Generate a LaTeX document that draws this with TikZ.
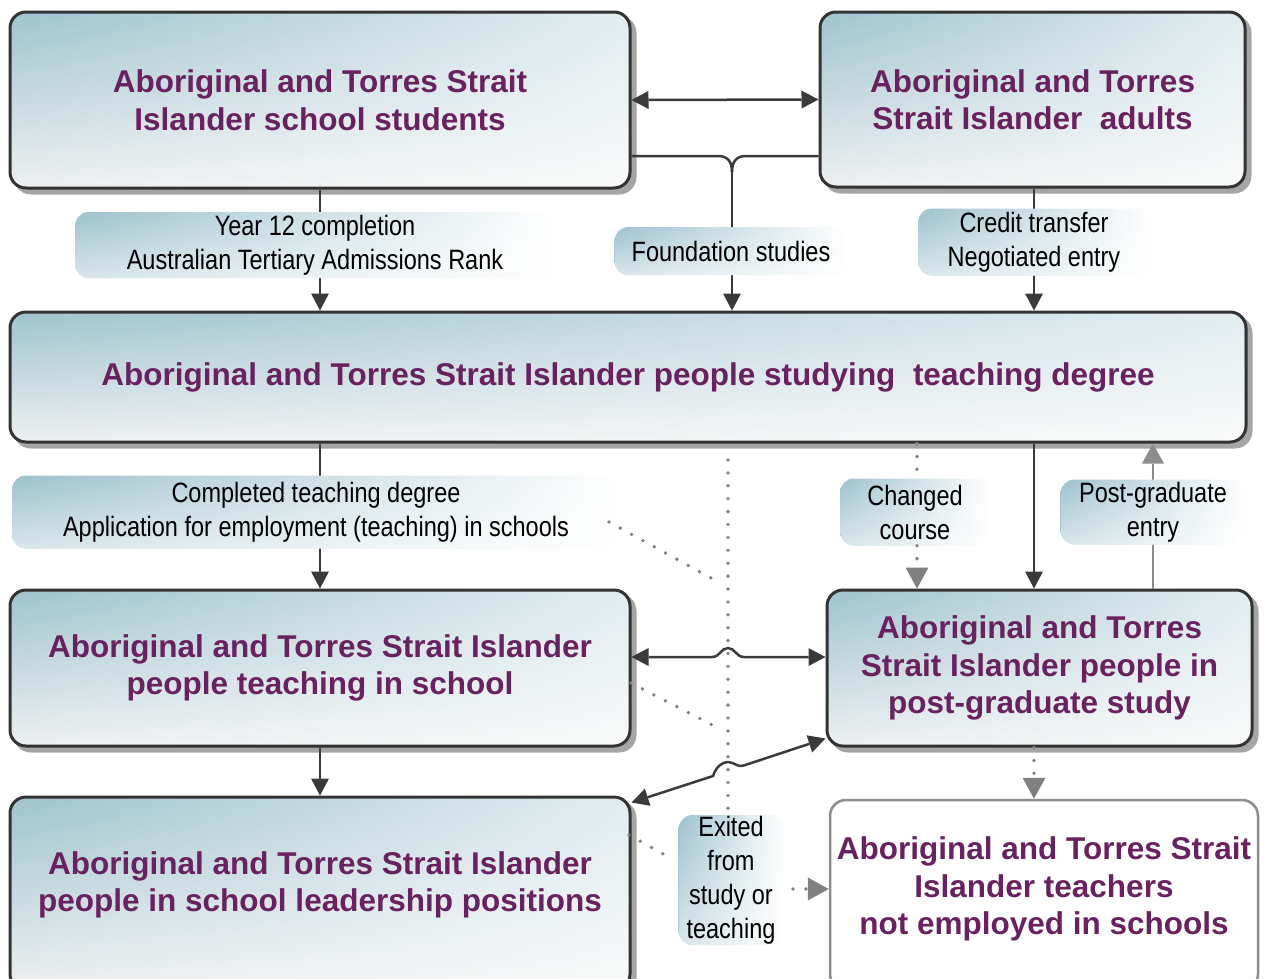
\documentclass[tikz,border=0pt]{standalone}
\usepackage{fontspec}
\setmainfont{Liberation Sans}
\newfontfamily\narrowfont[FakeStretch=0.84]{Liberation Sans}
\usetikzlibrary{arrows.meta,shadows,calc,fadings}
\definecolor{boxblue}{RGB}{160,196,207}
\definecolor{boxwhite}{RGB}{238,240,241}
\definecolor{lblblue}{RGB}{158,194,205}
\definecolor{lblmid}{RGB}{222,234,238}
\definecolor{titlepurple}{RGB}{105,33,96}
\definecolor{darkline}{RGB}{58,58,58}
\definecolor{bordercol}{RGB}{51,51,51}
\definecolor{shadowcol}{RGB}{165,165,165}
\definecolor{dotgray}{RGB}{128,128,128}
\definecolor{lightborder}{RGB}{140,140,140}
\tikzfading[name=boxfade, left color=transparent!100, right color=transparent!30]
\tikzfading[name=lblvfade, top color=transparent!100, bottom color=transparent!40]
\begin{document}
\begin{tikzpicture}[x=1pt,y=-1pt,
  whiteover/.style={path picture={\fill[white, path fading=#1] (path picture bounding box.south west) rectangle (path picture bounding box.north east);}},
  box/.style={draw=bordercol, line width=3pt, rounded corners=16pt, inner sep=0pt,
    top color=boxblue, bottom color=boxwhite, whiteover=boxfade,
    text=titlepurple, font=\bfseries\fontsize{31.5}{37.5}\selectfont, align=center},
  shadowbox/.style={fill=shadowcol, rounded corners=16pt, inner sep=0pt, draw=shadowcol, line width=3pt},
  plainbox/.style={draw=lightborder, line width=2.5pt, rounded corners=16pt, inner sep=0pt, fill=white},
  titletext/.style={text=titlepurple, font=\bfseries\fontsize{31.5}{37.5}\selectfont, align=center, inner sep=0pt},
  lbl/.style={rounded corners=14pt, inner sep=0pt, left color=lblblue, middle color=lblmid, right color=white, whiteover=lblvfade,
    font=\narrowfont\fontsize{28}{34}\selectfont, align=center, text=black},
  plainline/.style={draw=darkline, line width=2.5pt},
  conn/.style={draw=darkline, line width=2.5pt, -{Triangle[length=17pt,width=18pt,line width=0pt]}},
  dconn/.style={draw=darkline, line width=2.5pt, {Triangle[length=17pt,width=18pt,line width=0pt]}-{Triangle[length=17pt,width=18pt,line width=0pt]}},
  dots/.style={draw=dotgray, line width=3.8pt, line cap=round, dash pattern=on 0pt off 12.9pt},
  gtip/.style={-{Triangle[length=21pt,width=23pt,line width=0pt]}},
  gline/.style={draw=lightborder, line width=2.5pt, -{Triangle[length=20pt,width=22pt,line width=0pt]}}
]
\useasboundingbox (0,0) rectangle (1267,978);
\clip (0,0) rectangle (1267,978);

% shadows of the boxes
\foreach \cx/\cy/\w/\h in {320/100/620/176, 1032.5/99.5/425/175, 628/377/1236/130, 320/668/620/156, 1039.5/668/425/156, 320/893.5/620/193}{
  \path[shadowbox] (\cx+5-\w/2,\cy+5-\h/2) rectangle (\cx+5+\w/2,\cy+5+\h/2);
}

% boxes
\node[box, minimum width=620pt, minimum height=176pt] (b1) at (320,100) {Aboriginal and Torres Strait\\Islander school students};
\node[box, minimum width=425pt, minimum height=175pt] (b2) at (1032.5,99.5) {Aboriginal and Torres\\Strait Islander~ adults};
\node[box, minimum width=1236pt, minimum height=130pt] (b3) at (628,377) {Aboriginal and Torres Strait Islander people studying~ teaching degree};
\node[box, minimum width=620pt, minimum height=156pt] (b4) at (320,668) {Aboriginal and Torres Strait Islander\\people teaching in school};
\node[box, minimum width=425pt, minimum height=156pt] (b5) at (1039.5,668) {Aboriginal and Torres\\Strait Islander people in\\post-graduate study};
\node[box, minimum width=620pt, minimum height=193pt] (b6) at (320,893.5) {};
\node[titletext] (b6t) at (320,885) {Aboriginal and Torres Strait Islander\\people in school leadership positions};
\node[plainbox, minimum width=428pt, minimum height=190pt] (b7) at (1044,895) {};
\node[titletext] (b7t) at (1044,889) {Aboriginal and Torres Strait\\Islander teachers\\not employed in schools};

% helper coordinates
\coordinate (fj) at (732,156);
\coordinate (fm) at (732,172);
\coordinate (xc) at (917,0);
\coordinate (xb) at (1034,0);
\coordinate (xp) at (1153,0);

% solid connectors
\draw[dconn] (b1.east) -- (b2.west);
\draw[plainline] (b1.east |- fj) -- (718,156) .. controls (728,156) and (732,162) .. (fm);
\draw[plainline] (b2.west |- fj) -- (746,156) .. controls (736,156) and (732,162) .. (fm);
\draw[conn] (fm) -- (fm |- b3.north);
\draw[conn] (b1.south) -- (b1.south |- b3.north);
\draw[conn] (xb |- b2.south) -- (xb |- b3.north);
\draw[conn] (b4.north |- b3.south) -- (b4.north);
\draw[conn] (xb |- b3.south) -- (xb |- b5.north);
\draw[conn] (b4.south) -- (b6.north);
\draw[gline] (xp |- b5.north) -- (xp |- b3.south);
\draw[dconn] ([yshift=11pt]b4.east) -- (712,657) .. controls (720,657) and (721,648) .. (728,648) .. controls (735,648) and (736,657) .. (744,657) -- ([yshift=11pt]b5.west);
\draw[dconn] ([yshift=-7pt]b6.north east) -- (713,776) .. controls (716,767) and (722,762) .. (728,762) .. controls (734,762) and (738,768) .. (744,765.4) -- ([yshift=9pt]b5.south west);

% labels
\node[lbl, minimum width=480pt, minimum height=66pt] (L1) at (315,245) {Year 12 completion\\Australian Tertiary Admissions Rank};
\node[lbl, minimum width=233pt, minimum height=48pt] (L2) at (731,251) {Foundation studies};
\node[lbl, minimum width=232pt, minimum height=67pt] (L3) at (1034,242) {Credit transfer\\Negotiated entry};
\node[lbl, minimum width=608pt, minimum height=73pt] (L4) at (316,512) {Completed teaching degree\\Application for employment (teaching) in schools};
\node[lbl, minimum width=150pt, minimum height=67pt] (L5) at (915,512) {Changed\\course};
\node[lbl, minimum width=185pt, minimum height=65pt] (L6) at (1153,512) {Post-graduate\\entry};
\node[lbl, minimum width=105pt, minimum height=130pt] (L7) at (731,880) {Exited\\from\\study or\\teaching};

% dotted connectors
\coordinate (vt) at (728,460);
\coordinate (d1) at (609,522);
\coordinate (d2) at (722,584);
\coordinate (d3) at (631,683);
\coordinate (d4) at (722,730);
\coordinate (d5) at (629,835);
\coordinate (d6) at (674,860);
\coordinate (e1) at (793,889);
\draw[dots] (vt) -- (vt |- L7.north);
\draw[dots] (d1) -- (d2);
\draw[dots] (d3) -- (d4);
\draw[dots] (d5) -- (d6);
\draw[dots, gtip] (e1) -- (e1 -| b7.west);
\draw[dots] (xc |- b3.south) -- (xc |- L5.north);
\draw[dots, gtip] (xc |- L5.south) -- (xc |- b5.north);
\draw[dots, gtip] (xb |- b5.south) -- (xb |- b7.north);
\end{tikzpicture}
\end{document}
